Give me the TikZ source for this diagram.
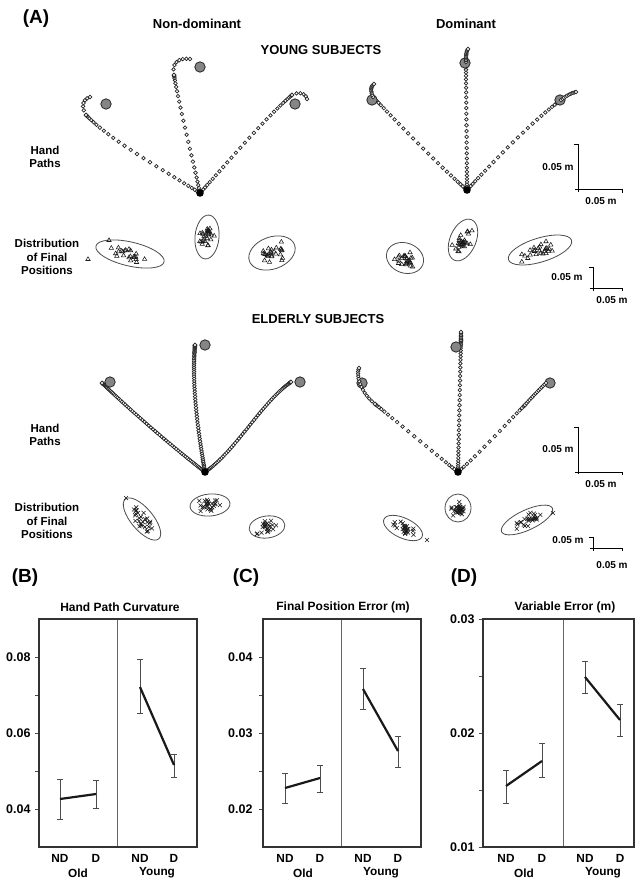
\documentclass[tikz,border=0pt]{standalone}
\usepackage{fontspec}
\setmainfont{Liberation Sans}
\tikzset{
  x=1pt, y=-1pt,
  hdot/.style={fill=white, draw=black!85, line width=0.7pt},
  tgt/.style={fill=black!48, draw=black!85, line width=0.8pt},
  startdot/.style={fill=black},
  ell/.style={draw=black!70, line width=0.8pt},
  mk/.style={draw=black!90, line width=0.55pt},
  hd/.style={font=\bfseries\fontsize{13}{15}\selectfont, text=black},
  lbl/.style={font=\bfseries\fontsize{11.5}{13.3}\selectfont, align=center, text=black},
  panel/.style={font=\bfseries\fontsize{19}{22}\selectfont, text=black},
  sc/.style={font=\bfseries\fontsize{10}{11}\selectfont, text=black},
  scbar/.style={draw=black, line width=1pt},
  frame/.style={draw=black!80, line width=1.3pt},
  divl/.style={draw=black!60, line width=0.7pt},
  eb/.style={draw=black!70, line width=0.75pt},
  ml/.style={draw=black!90, line width=2.2pt},
  tk/.style={draw=black!70, line width=0.6pt},
  tl/.style={font=\bfseries\fontsize{12.5}{14}\selectfont, anchor=east, text=black},
  ttl/.style={font=\bfseries\fontsize{12}{14}\selectfont, text=black},
  xl/.style={font=\bfseries\fontsize{11.8}{13}\selectfont, text=black},
}
% min-jerk sampled cubic Bezier of open dots: N, x0,y0,x1,y1,x2,y2,x3,y3
\newcommand\bpath[9]{%
  \foreach \s in {0,...,#1}{%
    \pgfmathsetmacro\bt{(1-cos(180*\s/#1))/2}%
    \pgfmathsetmacro\bu{1-\bt}%
    \pgfmathsetmacro\bx{\bu*\bu*\bu*(#2)+3*\bu*\bu*\bt*(#4)+3*\bu*\bt*\bt*(#6)+\bt*\bt*\bt*(#8)}%
    \pgfmathsetmacro\by{\bu*\bu*\bu*(#3)+3*\bu*\bu*\bt*(#5)+3*\bu*\bt*\bt*(#7)+\bt*\bt*\bt*(#9)}%
    \draw[hdot] (\bx,\by) circle (1.8);
  }}
% uniformly sampled cubic Bezier of open dots
\newcommand\upath[9]{%
  \foreach \s in {0,...,#1}{%
    \pgfmathsetmacro\bt{\s/#1}%
    \pgfmathsetmacro\bu{1-\bt}%
    \pgfmathsetmacro\bx{\bu*\bu*\bu*(#2)+3*\bu*\bu*\bt*(#4)+3*\bu*\bt*\bt*(#6)+\bt*\bt*\bt*(#8)}%
    \pgfmathsetmacro\by{\bu*\bu*\bu*(#3)+3*\bu*\bu*\bt*(#5)+3*\bu*\bt*\bt*(#7)+\bt*\bt*\bt*(#9)}%
    \draw[hdot] (\bx,\by) circle (1.8);
  }}
\newcommand\mtri[1]{\draw[mk] (#1) ++(-2.2,1.5) -- ++(4.4,0) -- ++(-2.2,-3.7) -- cycle;}
\newcommand\mcross[1]{\draw[mk] (#1) ++(-2,-2) -- ++(4,4) ++(-4,0) -- ++(4,-4);}
% cx cy rx ry rot n marker seed
\newcommand\scat[8]{%
  \begin{scope}[shift={(#1,#2)},rotate=#5]
    \draw[ell] (0,0) ellipse [x radius=#3, y radius=#4];
  \end{scope}
  \pgfmathsetseed{#8}%
  \foreach \k in {1,...,#6}{%
    \pgfmathsetmacro\px{#3*0.34*(rand+rand)}%
    \pgfmathsetmacro\py{#4*0.34*(rand+rand)}%
    \pgfmathsetmacro\qx{#1+\px*cos(#5)+\py*sin(#5)}%
    \pgfmathsetmacro\qy{#2-\px*sin(#5)+\py*cos(#5)}%
    #7{\qx,\qy}%
  }}
\newcommand\ebar[3]{\draw[eb] (#1-3,#2)--(#1+3,#2) (#1,#2)--(#1,#3) (#1-3,#3)--(#1+3,#3);}
\begin{document}
\begin{tikzpicture}
\useasboundingbox[fill=white] (0,0) rectangle (636,882);

% ---------- headings ----------
\node[panel] (pA) at (36,19) {(A)};
\node[hd] (hND) at (197,24) {Non-dominant};
\node[hd] (hD) at (466,24) {Dominant};
\node[hd] (hY) at (321,50) {YOUNG SUBJECTS};
\node[hd] (hE) at (318,319) {ELDERLY SUBJECTS};
\node[lbl] (hp1) at (45,157) {Hand\\Paths};
\node[lbl] (df1) at (47,257) {Distribution\\of Final\\Positions};
\node[lbl] (hp2) at (45,435) {Hand\\Paths};
\node[lbl] (df2) at (47,521) {Distribution\\of Final\\Positions};

% ---------- young non-dominant paths ----------
\bpath{30}{200}{193}{160}{168}{110}{140}{86}{115}
\upath{6}{86}{115}{80}{105}{84}{99}{90}{97}
\bpath{28}{200}{193}{193}{160}{180}{110}{174}{75}
\upath{7}{174}{75}{171}{60}{182}{58}{190}{59}
\bpath{33}{200}{193}{230}{160}{265}{118}{292}{95}
\upath{5}{292}{95}{300}{91}{306}{94}{307}{99}

% ---------- young dominant paths ----------
\bpath{30}{467}{190}{435}{162}{400}{125}{373}{97}
\bpath{36}{467}{190}{467}{150}{466}{100}{466}{62}
\bpath{30}{467}{190}{495}{160}{530}{123}{561}{100}

% ---------- elderly non-dominant paths ----------
\bpath{78}{205}{472}{170}{445}{130}{410}{102}{383}
\bpath{70}{205}{472}{196}{420}{192}{380}{195}{345}
\bpath{70}{205}{472}{235}{452}{262}{402}{291}{382}

% ---------- elderly dominant paths ----------
\bpath{25}{458}{472}{440}{458}{395}{420}{375}{404}
\bpath{42}{458}{472}{459}{430}{460}{380}{461}{340}
\bpath{21}{458}{472}{480}{453}{505}{425}{525}{405}

% ---------- targets ----------
\foreach \p in {(106,104),(200,67),(295,104),(372,100),(465,63),(560,100),
                (110,382),(205,345),(300,382),(362,383),(456,347),(550,383)}
  \draw[tgt] \p circle (5.2);

% ---------- end hooks drawn over targets ----------
\upath{10}{373}{97}{370}{90}{371}{86}{374}{84}
\upath{10}{466}{62}{466}{56}{466}{52}{468}{49}
\upath{10}{561}{100}{566}{96}{571}{93}{576}{92}
\upath{14}{375}{404}{360}{392}{356}{375}{359}{368}
\upath{5}{461}{340}{461}{337}{461}{335}{461}{332}
\upath{14}{525}{405}{532}{397}{539}{390}{546}{383}

% ---------- start points ----------
\foreach \p in {(200,193),(467,190),(205,472),(458,472)}
  \fill[startdot] \p circle (3.8);

% ---------- scale bars ----------
\draw[scbar] (574,145) -- (578,145) -- (578,192);
\draw[scbar] (575,190) -- (622,190) -- (622,193);
\node[sc] (s1a) at (558,167) {0.05 m};
\node[sc] (s1b) at (601,201) {0.05 m};
\draw[scbar] (589,268) -- (593,268) -- (593,291);
\draw[scbar] (590,288) -- (622,288) -- (622,291);
\node[sc] (s2a) at (567,277) {0.05 m};
\node[sc] (s2b) at (612,300) {0.05 m};
\draw[scbar] (574,427) -- (578,427) -- (578,474);
\draw[scbar] (575,472) -- (622,472) -- (622,475);
\node[sc] (s3a) at (558,449) {0.05 m};
\node[sc] (s3b) at (601,484) {0.05 m};
\draw[scbar] (589,537) -- (593,537) -- (593,551);
\draw[scbar] (590,548) -- (622,548) -- (622,551);
\node[sc] (s4a) at (568,540) {0.05 m};
\node[sc] (s4b) at (612,565) {0.05 m};

% ---------- distributions, young ----------
\scat{130}{254}{35}{12}{-13}{22}{\mtri}{3}
\mtri{88,259} \mtri{109,240}
\scat{207}{237}{22}{12}{85}{28}{\mtri}{5}
\scat{272}{253}{24}{16}{20}{26}{\mtri}{8}
\scat{405}{258}{19}{15}{-20}{26}{\mtri}{11}
\scat{463}{240}{22}{13}{67}{28}{\mtri}{13}
\scat{540}{250}{33}{12}{17}{26}{\mtri}{17}

% ---------- distributions, elderly ----------
\scat{142}{519}{26}{11}{-50}{26}{\mcross}{21}
\mcross{126,498}
\scat{210}{505}{20}{11}{5}{26}{\mcross}{23}
\scat{267}{527}{18}{11}{8}{22}{\mcross}{29}
\scat{403}{528}{21}{10}{-25}{26}{\mcross}{31}
\mcross{427,540}
\scat{458}{508}{13}{14}{0}{28}{\mcross}{37}
\scat{527}{520}{28}{10}{25}{26}{\mcross}{41}
\mcross{553,513}

% ---------- panel labels ----------
\node[panel] (pB) at (25,578) {(B)};
\node[panel] (pC) at (246,578) {(C)};
\node[panel] (pD) at (464,578) {(D)};

% ---------- graph B ----------
\node[ttl] (tB) at (120,607) {Hand Path Curvature};
\foreach \y in {657,695,733,771,809} \draw[tk] (35,\y) -- (39,\y);
\node[tl] (b1) at (34,657) {0.08};
\node[tl] (b2) at (34,733) {0.06};
\node[tl] (b3) at (34,809) {0.04};
\draw[divl] (117,619) -- (117,847);
\draw[frame] (39,619) rectangle (197,847);
\ebar{60}{779}{819} \ebar{96}{780}{808} \ebar{140}{659}{713} \ebar{174}{754}{777}
\draw[ml] (60,799) -- (96,794);
\draw[ml] (140,687) -- (174,765);
\node[xl] (bx1) at (60,858) {ND};
\node[xl] (bx2) at (96,858) {D};
\node[xl] (bx3) at (140,858) {ND};
\node[xl] (bx4) at (174,858) {D};
\node[xl] (bx5) at (78,873) {Old};
\node[xl] (bx6) at (157,873) {Young};

% ---------- graph C ----------
\node[ttl] (tC) at (343,607) {Final Position Error (m)};
\foreach \y in {657,695,733,771,809} \draw[tk] (259,\y) -- (263,\y);
\node[tl] (c1) at (256,657) {0.04};
\node[tl] (c2) at (256,733) {0.03};
\node[tl] (c3) at (256,809) {0.02};
\draw[divl] (341,619) -- (341,847);
\draw[frame] (263,619) rectangle (421,847);
\ebar{285}{773}{803} \ebar{320}{765}{792} \ebar{363}{668}{709} \ebar{398}{736}{767}
\draw[ml] (285,788) -- (320,778);
\draw[ml] (363,689) -- (398,751);
\node[xl] (cx1) at (285,858) {ND};
\node[xl] (cx2) at (320,858) {D};
\node[xl] (cx3) at (363,858) {ND};
\node[xl] (cx4) at (398,858) {D};
\node[xl] (cx5) at (303,873) {Old};
\node[xl] (cx6) at (381,873) {Young};

% ---------- graph D ----------
\node[ttl] (tD) at (565,607) {Variable Error (m)};
\foreach \y in {619,676,733,790,847} \draw[tk] (479,\y) -- (483,\y);
\node[tl] (d1) at (478,619) {0.03};
\node[tl] (d2) at (478,733) {0.02};
\node[tl] (d3) at (478,847) {0.01};
\draw[divl] (563,619) -- (563,847);
\draw[frame] (483,619) rectangle (634,847);
\ebar{506}{770}{803} \ebar{542}{743}{777} \ebar{585}{661}{693} \ebar{620}{704}{736}
\draw[ml] (506,786) -- (542,761);
\draw[ml] (585,677) -- (620,720);
\node[xl] (dx1) at (506,858) {ND};
\node[xl] (dx2) at (542,858) {D};
\node[xl] (dx3) at (585,858) {ND};
\node[xl] (dx4) at (620,858) {D};
\node[xl] (dx5) at (524,873) {Old};
\node[xl] (dx6) at (603,873) {Young};
\end{tikzpicture}
\end{document}
